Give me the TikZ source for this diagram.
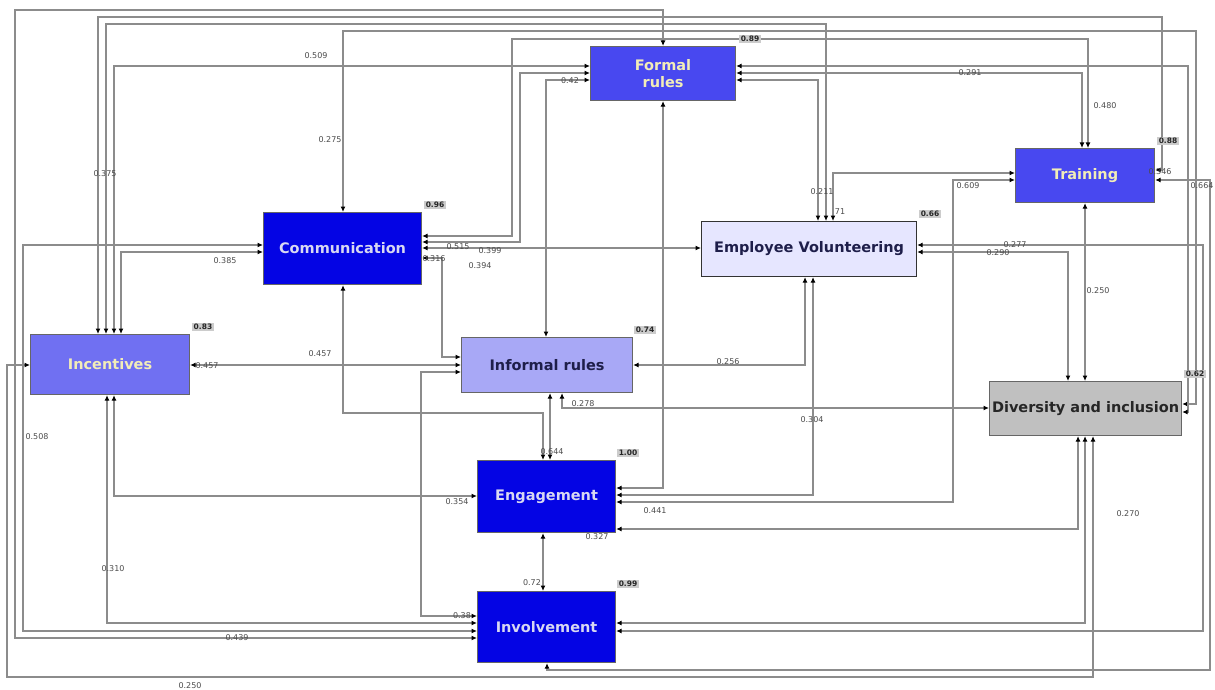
\documentclass[tikz,border=0pt]{standalone}
\usepackage{fontspec}
\setmainfont{DejaVu Sans}
\usetikzlibrary{arrows.meta}
\definecolor{cMid}{HTML}{4848F0}
\definecolor{cDeep}{HTML}{0404E4}
\definecolor{cInc}{HTML}{7070F2}
\definecolor{cInf}{HTML}{A8A8F6}
\definecolor{cEV}{HTML}{E6E6FF}
\definecolor{cDiv}{HTML}{C0C0C0}
\definecolor{cYel}{HTML}{F2EDB8}
\definecolor{cPale}{HTML}{D8D8F2}
\definecolor{cNavy}{HTML}{1E1E4A}
\definecolor{cLine}{HTML}{8C8C8C}
\begin{document}
\begin{tikzpicture}[x=1pt,y=-1pt,
  nbox/.style={rectangle, anchor=north west, inner sep=2pt, draw=black!60, line width=1.1pt,
    font=\bfseries\fontsize{14.5}{17}\selectfont, align=center},
  conn/.style={draw=cLine, line width=1.2pt,
    {Latex[length=5.5pt,width=5pt,color=black]}-{Latex[length=5.5pt,width=5pt,color=black]}},
  lbl/.style={font=\fontsize{8}{9}\selectfont, text=black!70, inner sep=0pt},
  badge/.style={fill=gray!40, font=\bfseries\fontsize{7.5}{8}\selectfont, inner sep=1.5pt, text=black!85}]
\useasboundingbox (0,0) rectangle (1215,690);
\fill[white] (0,0) rectangle (1215,690);

% nodes
\node[nbox, fill=cMid, text=cYel, minimum width=145pt, minimum height=54pt] (formal) at (590,46) {Formal\\rules};
\node[nbox, fill=cMid, text=cYel, minimum width=139pt, minimum height=54pt] (training) at (1015,148) {Training};
\node[nbox, fill=cDeep, text=cPale, minimum width=158pt, minimum height=72pt] (comm) at (263,212) {Communication};
\node[nbox, fill=cEV, text=cNavy, draw=black!80, minimum width=215pt, minimum height=55pt] (ev) at (701,221) {Employee Volunteering};
\node[nbox, fill=cInc, text=cYel, minimum width=159pt, minimum height=60pt] (inc) at (30,334) {Incentives};
\node[nbox, fill=cInf, text=cNavy, minimum width=171pt, minimum height=55pt] (inf) at (461,337) {Informal rules};
\node[nbox, fill=cDiv, text=black!85, minimum width=192pt, minimum height=54pt] (div) at (989,381) {Diversity and inclusion};
\node[nbox, fill=cDeep, text=cPale, minimum width=138pt, minimum height=72pt] (eng) at (477,460) {Engagement};
\node[nbox, fill=cDeep, text=cPale, minimum width=138pt, minimum height=71pt] (inv) at (477,591) {Involvement};

% connectors
\draw[conn] (formal.north) |- (15,10) -- (15,638) -- (inv.west |- 0,638);
\draw[conn] (inc.north -| 98,0) |- (1162,17) |- (training.east |- 0,170);
\draw[conn] (inc.north -| 106,0) |- (826,24) -- (ev.north -| 826,0);
\draw[conn] (inc.north -| 114,0) |- (formal.west |- 0,66);
\draw[conn] (inc.north -| 121,0) |- (comm.west |- 0,252);
\draw[conn] (comm.north -| 343,0) |- (1196,31) |- (div.east |- 0,404);
\draw[conn] (comm.east |- 0,236) -| (512,39) -| (training.north -| 1088,0);
\draw[conn] (comm.east |- 0,242) -| (520,73) -- (formal.west |- 0,73);
\draw[conn] (comm.east |- 0,248) -- (ev.west |- 0,248);
\draw[conn] (comm.east |- 0,258) -| (442,357) -- (inf.west |- 0,357);
\draw[conn] (comm.west |- 0,245) -| (23,631) -- (inv.west |- 0,631);
\draw[conn] (comm.south -| 343,0) |- (543,413) -- (eng.north -| 543,0);
\draw[conn] (formal.west |- 0,80) -| (inf.north -| 546,0);
\draw[conn] (formal.east |- 0,66) -| (1188,412) -- (div.east |- 0,412);
\draw[conn] (formal.east |- 0,73) -| (training.north -| 1082,0);
\draw[conn] (formal.east |- 0,80) -| (ev.north -| 818,0);
\draw[conn] (formal.south -| 663,0) |- (eng.east |- 0,488);
\draw[conn] (ev.north -| 833,0) |- (training.west |- 0,173);
\draw[conn] (ev.south -| 805,0) |- (inf.east |- 0,365);
\draw[conn] (ev.south -| 813,0) |- (eng.east |- 0,495);
\draw[conn] (ev.east |- 0,245) -| (1203,631) -- (inv.east |- 0,631);
\draw[conn] (ev.east |- 0,252) -| (div.north -| 1068,0);
\draw[conn] (training.west |- 0,180) -| (953,502) -- (eng.east |- 0,502);
\draw[conn] (training.south -| 1085,0) -- (div.north -| 1085,0);
\draw[conn] (training.east |- 0,180) -| (1210,670) -| (inv.south -| 547,0);
\draw[conn] (inc.east |- 0,365) -- (inf.west |- 0,365);
\draw[conn] (inc.west |- 0,365) -| (7,677) -| (div.south -| 1093,0);
\draw[conn] (inc.south -| 107,0) |- (inv.west |- 0,623);
\draw[conn] (inc.south -| 114,0) |- (eng.west |- 0,496);
\draw[conn] (inf.west |- 0,372) -| (421,616) -- (inv.west |- 0,616);
\draw[conn] (inf.south -| 550,0) -- (eng.north -| 550,0);
\draw[conn] (inf.south -| 562,0) |- (div.west |- 0,408);
\draw[conn] (eng.south -| 543,0) -- (inv.north -| 543,0);
\draw[conn] (eng.east |- 0,529) -| (div.south -| 1078,0);
\draw[conn] (div.south -| 1085,0) |- (inv.east |- 0,623);

% badges
\node[badge] (b1) at (750,39) {0.89};
\node[badge] (b2) at (1168,141) {0.88};
\node[badge] (b3) at (435,205) {0.96};
\node[badge] (b4) at (930,214) {0.66};
\node[badge] (b5) at (203,327) {0.83};
\node[badge] (b6) at (645,330) {0.74};
\node[badge] (b7) at (1195,374) {0.62};
\node[badge] (b8) at (628,453) {1.00};
\node[badge] (b9) at (628,584) {0.99};

% labels
\node[lbl] (l01) at (316,56) {0.509};
\node[lbl] (l02) at (330,140) {0.275};
\node[lbl] (l03) at (105,174) {0.375};
\node[lbl] (l04) at (225,261) {0.385};
\node[lbl] (l05) at (320,354) {0.457};
\node[lbl] (l06) at (207,366) {0.457};
\node[lbl] (l07) at (37,437) {0.508};
\node[lbl] (l08) at (113,569) {0.310};
\node[lbl] (l09) at (237,638) {0.439};
\node[lbl] (l10) at (190,686) {0.250};
\node[lbl] (l11) at (457,502) {0.354};
\node[lbl] (l12) at (462,616) {0.38};
\node[lbl] (l13) at (532,583) {0.72};
\node[lbl] (l14) at (552,452) {0.644};
\node[lbl] (l15) at (583,404) {0.278};
\node[lbl] (l16) at (570,81) {0.42};
\node[lbl] (l17) at (458,247) {0.515};
\node[lbl] (l18) at (490,251) {0.399};
\node[lbl] (l19) at (480,266) {0.394};
\node[lbl] (l20) at (434,259) {0.316};
\node[lbl] (l21) at (728,362) {0.256};
\node[lbl] (l22) at (812,420) {0.304};
\node[lbl] (l23) at (655,511) {0.441};
\node[lbl] (l24) at (597,537) {0.327};
\node[lbl] (l25) at (970,73) {0.291};
\node[lbl] (l26) at (1105,106) {0.480};
\node[lbl] (l27) at (822,192) {0.211};
\node[lbl] (l28) at (840,212) {71};
\node[lbl] (l29) at (968,186) {0.609};
\node[lbl] (l30) at (1015,245) {0.277};
\node[lbl] (l31) at (998,253) {0.290};
\node[lbl] (l32) at (1098,291) {0.250};
\node[lbl] (l33) at (1202,186) {0.664};
\node[lbl] (l34) at (1160,172) {0.346};
\node[lbl] (l35) at (1128,514) {0.270};
\end{tikzpicture}
\end{document}
